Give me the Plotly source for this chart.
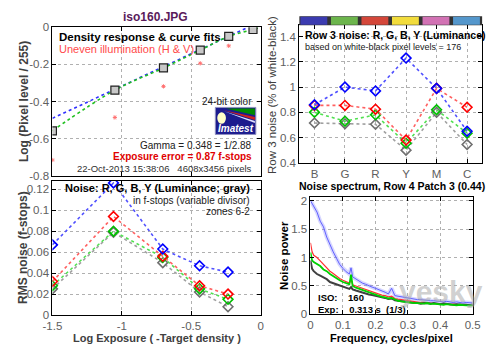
import plotly.graph_objects as go

# ---------------- data ----------------
# Density response (top-left)
dens_x = [-1.5, -1.05, -0.70, -0.435, -0.23, -0.055]
dens_y = [-0.557, -0.338, -0.219, -0.123, -0.049, -0.012]
uneven_x = [-1.5, -1.05, -0.70, -0.435, -0.23]
uneven_y = [-0.714, -0.485, -0.318, -0.194, -0.10]
gamma_x = [-1.5, -0.09]
gamma_y = [-0.49, 0.0]

# Row 3 noise (top-right)
patch_cats = ["B", "G", "R", "Y", "M", "C"]
row3_blue = [0.86, 1.00, 0.97, 1.23, 0.99, 0.65]
row3_red = [0.855, 0.855, 0.825, 0.58, 0.99, 0.84]
row3_green = [0.80, 0.73, 0.78, 0.555, 0.82, 0.635]
row3_gray = [0.715, 0.71, 0.705, 0.50, 0.80, 0.545]
bar_colors = ["#3b3bb0", "#6cb54c", "#d4473a", "#f2dc3c", "#d272b4", "#5497cc"]

# RMS noise (bottom-left)
zone_x = [-1.5, -1.06, -0.705, -0.44, -0.235]
rms_blue = [0.067, 0.126, 0.063, 0.047, 0.041]
rms_red = [0.032, 0.094, 0.056, 0.028, 0.020]
rms_green = [0.028, 0.080, 0.055, 0.025, 0.015]
rms_gray = [0.025, 0.079, 0.050, 0.022, 0.008]

# Noise spectrum (bottom-right)
freq = [0, 0.005, 0.01, 0.02, 0.03, 0.04, 0.05, 0.06, 0.07, 0.08, 0.09, 0.10, 0.11, 0.12, 0.125,
        0.13, 0.14, 0.15, 0.16, 0.17, 0.18, 0.19, 0.20, 0.21, 0.22, 0.23, 0.24, 0.25, 0.26, 0.27,
        0.28, 0.29, 0.30, 0.31, 0.32, 0.33, 0.34, 0.35, 0.36, 0.37, 0.38, 0.39, 0.40, 0.41, 0.42,
        0.43, 0.44, 0.45, 0.46, 0.47, 0.48, 0.49, 0.50]
spec_blue = [2.00, 1.95, 1.88, 1.80, 1.64, 1.54, 1.36, 1.22, 1.10, 0.99, 0.88, 0.81, 0.75, 0.71, 0.82,
             0.66, 0.62, 0.58, 0.55, 0.53, 0.50, 0.48, 0.46, 0.44, 0.41, 0.39, 0.36, 0.46, 0.33, 0.32,
             0.31, 0.30, 0.28, 0.27, 0.27, 0.26, 0.26, 0.25, 0.25, 0.24, 0.24, 0.23, 0.23, 0.22, 0.23,
             0.22, 0.21, 0.22, 0.21, 0.20, 0.21, 0.20, 0.20]
spec_red = [1.26, 1.10, 1.04, 1.00, 0.94, 0.88, 0.82, 0.76, 0.72, 0.67, 0.63, 0.60, 0.57, 0.55, 0.62,
            0.52, 0.50, 0.48, 0.45, 0.43, 0.41, 0.40, 0.38, 0.36, 0.34, 0.33, 0.31, 0.32, 0.28, 0.27,
            0.26, 0.25, 0.24, 0.23, 0.23, 0.22, 0.21, 0.21, 0.20, 0.20, 0.19, 0.19, 0.18, 0.19, 0.18,
            0.17, 0.18, 0.17, 0.17, 0.16, 0.17, 0.16, 0.16]
spec_green = [1.09, 0.95, 0.92, 0.88, 0.85, 0.79, 0.76, 0.71, 0.67, 0.63, 0.60, 0.57, 0.55, 0.53, 0.70,
              0.50, 0.47, 0.45, 0.42, 0.40, 0.38, 0.37, 0.35, 0.33, 0.31, 0.30, 0.28, 0.29, 0.26, 0.24,
              0.23, 0.22, 0.21, 0.21, 0.20, 0.20, 0.19, 0.19, 0.20, 0.18, 0.19, 0.18, 0.18, 0.17, 0.18,
              0.17, 0.17, 0.16, 0.17, 0.16, 0.16, 0.16, 0.16]
spec_gray = [0.95, 0.80, 0.76, 0.71, 0.68, 0.65, 0.62, 0.57, 0.55, 0.53, 0.51, 0.49, 0.47, 0.45, 0.48,
             0.44, 0.42, 0.40, 0.38, 0.37, 0.35, 0.34, 0.33, 0.31, 0.30, 0.29, 0.27, 0.28, 0.25, 0.24,
             0.23, 0.22, 0.21, 0.21, 0.20, 0.20, 0.19, 0.20, 0.19, 0.19, 0.20, 0.19, 0.18, 0.19, 0.18,
             0.18, 0.17, 0.18, 0.17, 0.17, 0.17, 0.16, 0.17]

FONT = "Liberation Sans, Arial, sans-serif"
W, H = 500, 352


def px(x):
    return x / W


def py(y):
    return 1 - y / H


fig = go.Figure()

# ---- top-left: density response
fig.add_trace(go.Scatter(x=gamma_x, y=gamma_y, mode="lines", xaxis="x", yaxis="y",
                         line=dict(color="#3030ff", width=1.6, dash="dot")))
fig.add_trace(go.Scatter(x=dens_x + [0], y=dens_y + [0.0], mode="lines", xaxis="x", yaxis="y",
                         line=dict(color="#20c020", width=1.6, dash="dot", shape="spline")))
fig.add_trace(go.Scatter(x=uneven_x, y=uneven_y, mode="markers", xaxis="x", yaxis="y",
                         marker=dict(symbol="asterisk", size=3.5, color="#ff7070",
                                     line=dict(color="#ff7070", width=1))))
fig.add_trace(go.Scatter(x=dens_x, y=dens_y, mode="markers", xaxis="x", yaxis="y",
                         marker=dict(symbol="square", size=8, color="#c8c8c8",
                                     line=dict(color="#202020", width=1.2))))

# ---- top-right: row 3 noise
cat_x = [1, 2, 3, 4, 5, 6]
for vals, lc, mc in [(row3_gray, "#a0a0a0", "#707070"), (row3_green, "#50e050", "#00c000"),
                     (row3_red, "#ff6060", "#ff0000"), (row3_blue, "#5050ff", "#0000ff")]:
    fig.add_trace(go.Scatter(x=cat_x, y=vals, mode="lines+markers", xaxis="x2", yaxis="y2",
                             line=dict(color=lc, width=1.6, dash="dot"),
                             marker=dict(symbol="diamond-open", size=7.5, color=mc,
                                         line=dict(color=mc, width=1.6))))

# ---- bottom-left: RMS noise
for vals, lc, mc in [(rms_gray, "#a0a0a0", "#707070"), (rms_green, "#50e050", "#00c000"),
                     (rms_red, "#ff6060", "#ff0000"), (rms_blue, "#5050ff", "#0000ff")]:
    fig.add_trace(go.Scatter(x=zone_x, y=vals, mode="lines+markers", xaxis="x3", yaxis="y3",
                             line=dict(color=lc, width=1.6, dash="dot"),
                             marker=dict(symbol="diamond-open", size=7.5, color=mc,
                                         line=dict(color=mc, width=1.6))))

# ---- bottom-right: noise spectrum
fig.add_trace(go.Scatter(x=freq, y=spec_blue, mode="lines", xaxis="x4", yaxis="y4",
                         line=dict(color="rgba(120,120,255,0.3)", width=4)))
fig.add_trace(go.Scatter(x=freq, y=spec_blue, mode="lines", xaxis="x4", yaxis="y4",
                         line=dict(color="#6060ff", width=1)))
fig.add_trace(go.Scatter(x=freq, y=spec_red, mode="lines", xaxis="x4", yaxis="y4",
                         line=dict(color="#ff3030", width=1.2)))
fig.add_trace(go.Scatter(x=freq, y=spec_gray, mode="lines", xaxis="x4", yaxis="y4",
                         line=dict(color="#404040", width=2)))
fig.add_trace(go.Scatter(x=freq, y=spec_green, mode="lines", xaxis="x4", yaxis="y4",
                         line=dict(color="#00d000", width=1.8)))

tickfont = dict(family=FONT, size=11.5, color="#606060")
axbase = dict(showline=True, linecolor="black", linewidth=1, mirror="ticks", ticks="inside",
              ticklen=4, tickcolor="black", showgrid=True, gridcolor="#b0b0b0", griddash="dot",
              gridwidth=1, zeroline=False, tickfont=tickfont, fixedrange=True)

layout = dict(
    width=W, height=H, margin=dict(l=0, r=0, t=0, b=0), showlegend=False,
    paper_bgcolor="white", plot_bgcolor="white",
    xaxis=dict(axbase, domain=[px(44), px(260)], range=[-1.5, 0], tickvals=[-1.5, -1, -0.5, 0],
               showticklabels=False, anchor="y"),
    yaxis=dict(axbase, domain=[py(176), py(22)], range=[-0.8, 0],
               tickvals=[0, -0.2, -0.4, -0.6, -0.8], ticktext=["0", "-0.2", "-0.4", "-0.6", "-0.8"],
               anchor="x"),
    xaxis2=dict(axbase, domain=[px(300), px(490)], range=[0.5, 6.5], tickvals=cat_x,
                ticktext=patch_cats, anchor="y2"),
    yaxis2=dict(axbase, domain=[py(162.3), py(20)], range=[0.4, 1.49],
                tickvals=[0.4, 0.6, 0.8, 1.0, 1.2, 1.4], ticktext=["0.4", "0.6", "0.8", "1", "1.2", "1.4"],
                anchor="x2"),
    xaxis3=dict(axbase, domain=[px(44), px(260)], range=[-1.5, 0], tickvals=[-1.5, -1, -0.5, 0],
                ticktext=["-1.5", "-1", "-0.5", "0"], anchor="y3"),
    yaxis3=dict(axbase, domain=[py(320), py(181)], range=[0, 0.128],
                tickvals=[0, 0.02, 0.04, 0.06, 0.08, 0.1, 0.12],
                ticktext=["0", "0.02", "0.04", "0.06", "0.08", "0.1", "0.12"], anchor="x3"),
    xaxis4=dict(axbase, domain=[px(311.7), px(480)], range=[0, 0.5],
                tickvals=[0, 0.1, 0.2, 0.3, 0.4, 0.5], ticktext=["0", "0.1", "0.2", "0.3", "0.4", "0.5"],
                anchor="y4"),
    yaxis4=dict(axbase, domain=[py(319.3), py(198)], range=[0, 2.06],
                tickvals=[0, 0.5, 1, 1.5, 2], ticktext=["0", "0.5", "1", "1.5", "2"], anchor="x4"),
)
fig.update_layout(**layout)

shapes = []
# colour bar above the row-3 plot
shapes.append(dict(type="rect", xref="x2", yref="paper", x0=0.5, x1=6.5, y0=py(20), y1=py(10.7),
                   fillcolor="#333333", line=dict(width=0), layer="above"))
for i, c in enumerate(bar_colors):
    shapes.append(dict(type="rect", xref="x2", yref="paper", x0=i + 1 - 0.46, x1=i + 1 + 0.42,
                       y0=py(19.5), y1=py(11.2), fillcolor=c, line=dict(width=0), layer="above"))
# Imatest logo
shapes.append(dict(type="rect", xref="paper", yref="paper", x0=px(213), x1=px(255), y0=py(133), y1=py(105),
                   fillcolor="#1c1c8e", line=dict(color="#9090c0", width=1)))
shapes.append(dict(type="path", xref="paper", yref="paper",
                   path=f"M {px(224)},{py(106)} L {px(254)},{py(106)} L {px(254)},{py(113)} Z",
                   fillcolor="#008a00", line=dict(width=0)))
shapes.append(dict(type="path", xref="paper", yref="paper",
                   path=f"M {px(222)},{py(108)} L {px(254)},{py(115)} L {px(254)},{py(118)} Z",
                   fillcolor="#d02020", line=dict(width=0)))
shapes.append(dict(type="path", xref="paper", yref="paper",
                   path=f"M {px(222)},{py(109)} L {px(254)},{py(119)} L {px(254)},{py(121)} Z",
                   fillcolor="#e0e0ff", line=dict(width=0)))
shapes.append(dict(type="circle", xref="paper", yref="paper", x0=px(215), x1=px(224), y0=py(122), y1=py(110),
                   fillcolor="#ffffc8", line=dict(width=0)))
fig.update_layout(shapes=shapes)


def ann(x, y, text, size=11, color="black", bold=False, xanchor="left", angle=0, italic=False):
    t = text
    if bold:
        t = f"<b>{t}</b>"
    if italic:
        t = f"<i>{t}</i>"
    fig.add_annotation(x=px(x), y=py(y), xref="paper", yref="paper", text=t, showarrow=False,
                       xanchor=xanchor, yanchor="middle", textangle=angle,
                       font=dict(family=FONT, size=size, color=color))


ann(151, 11, "iso160.JPG", 12, "#5a1a5a", True, "center")
ann(49, 32, "Density response &amp; curve fits", 11.5, "black", True)
ann(49, 44, "Uneven illumination (H &amp; V)", 11, "#ff4a4a")
ann(253, 99, "24-bit color", 10, "#202020", xanchor="right")
ann(234, 127, "Imatest", 10, "white", True, "center", italic=True)
ann(253, 144, "Gamma = 0.348 = 1/2.88", 10, "#202020", xanchor="right")
ann(253, 156, "Exposure error = 0.87 f-stops", 10, "#e00000", True, "right")
ann(253, 168, "22-Oct-2013 15:38:06   4608x3456 pixels", 9.5, "#303030", xanchor="right")
ann(14, 99, "Log (Pixel level / 255)", 12, "#404040", True, "center", -90)

ann(304, 30, "Row 3 noise: R, G, B, Y (Luminance)", 10.5, "black", True)
ann(304, 42, "based on white-black pixel levels = 176", 9, "#202020")
ann(272, 92, "Row 3 noise (% of white-black)", 11.5, "#404040", False, "center", -90)

ann(251, 188, "Noise: R, G, B, Y (Luminance; gray)", 11, "black", True, "right")
ann(251, 201, "in f-stops (variable divisor)", 10, "#202020", xanchor="right")
ann(251, 213, "zones 6-2", 10, "#202020", xanchor="right")
ann(14, 250, "RMS noise (f-stops)", 12, "#404040", True, "center", -90)
ann(152, 343.5, "Log Exposure ( -Target density )", 11, "#404040", True, "center")

ann(396, 186, "Noise spectrum, Row 4 Patch 3 (0.44)", 10.5, "black", True, "center")
ann(284, 258, "Noise power", 11.5, "black", True, "center", -90)
ann(396, 343.5, "Frequency, cycles/pixel", 11, "black", True, "center")
ann(317, 302, "ISO:&nbsp;&nbsp;&nbsp; 160", 9.5, "black", True)
ann(317, 314, "Exp:&nbsp;&nbsp;&nbsp; 0.313 s&nbsp; (1/3)", 9.5, "black", True)
ann(447, 296, "yesky", 30, "rgba(170,170,170,0.55)", True, "center")

fig.write_html("out.html")
